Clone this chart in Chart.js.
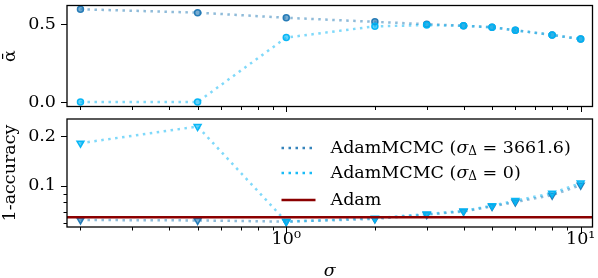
<!DOCTYPE html>
<html>
<head>
<meta charset="utf-8">
<script src="https://cdn.jsdelivr.net/npm/chart.js@4.4.0/dist/chart.umd.min.js"></script>
<style>
  body { margin: 0; background: #fff; width: 598px; height: 278px; position: relative; overflow: hidden; }
  canvas { position: absolute; left: 0; }
  #top { top: 0; }
  #bot { top: 112px; }
</style>
</head>
<body>
<canvas id="top" width="598" height="112"></canvas>
<canvas id="bot" width="598" height="166"></canvas>
<script>
// data
const sigma = [0.2, 0.5, 1, 2, 3, 4, 5, 6, 8, 10];
const alphaDelta = [0.596, 0.574, 0.541, 0.515, 0.500, 0.490, 0.480, 0.461, 0.431, 0.404];
const alphaZero = [0.000, 0.000, 0.414, 0.486, 0.494, 0.490, 0.480, 0.461, 0.431, 0.404];
const errDelta = [0.0624, 0.0620, 0.0610, 0.0633, 0.0673, 0.0702, 0.0753, 0.0800, 0.0880, 0.1010];
const errZero = [0.181, 0.228, 0.0610, 0.0639, 0.0678, 0.0707, 0.0760, 0.0816, 0.0904, 0.1040];
const errAdam = 0.0648;

const legendLabels = ["AdamMCMC (σ_Δ = 3661.6)", "AdamMCMC (σ_Δ = 0)", "Adam"];

// ticks
const xTicks = [0.2, 0.3, 0.4, 0.5, 0.6, 0.7, 0.8, 0.9, 1, 2, 3, 4, 5, 6, 7, 8, 9, 10];
const xMajor = [1, 10];
const xLabels = { 1: "10⁰", 10: "10¹" };
const alphaTicks = [0, 0.5];
const alphaLabels = { 0: "0.0", 0.5: "0.5" };
const errTicks = [0.06, 0.07, 0.08, 0.09, 0.1, 0.2];
const errMajor = [0.1, 0.2];
const errLabels = { 0.1: "0.1", 0.2: "0.2" };

const X_MIN = 0.18, X_MAX = 10.97;

const DARK = "rgba(31,119,180,";
const LIGHT = "rgba(0,180,245,";
const FONT = "DejaVu Serif";
const FS = 17.5;

Chart.defaults.font.family = FONT;
Chart.defaults.font.size = FS;
Chart.defaults.color = "#000";

function pts(ys) {
  return sigma.map((x, i) => ({ x: x, y: ys[i] }));
}

// frame round the plot and outward tick marks
const frameTicks = {
  id: "frameTicks",
  afterDraw(chart, args, opts) {
    const { ctx, chartArea: a } = chart;
    const xs = chart.scales.x, ys = chart.scales.y;
    ctx.save();
    ctx.strokeStyle = "#000";
    ctx.lineWidth = 1;
    xs.ticks.forEach(t => {
      const px = Math.round(xs.getPixelForValue(t.value)) + 0.5;
      const len = xMajor.includes(t.value) ? 7 : 3.5;
      ctx.beginPath();
      ctx.moveTo(px, a.bottom);
      ctx.lineTo(px, a.bottom + len);
      ctx.stroke();
    });
    ys.ticks.forEach(t => {
      const py = Math.round(ys.getPixelForValue(t.value)) + 0.5;
      const len = opts.yMajor.includes(t.value) ? 6 : 3.5;
      ctx.beginPath();
      ctx.moveTo(a.left, py);
      ctx.lineTo(a.left - len, py);
      ctx.stroke();
    });
    ctx.lineWidth = 1.3;
    ctx.strokeRect(a.left, a.top, a.right - a.left, a.bottom - a.top);
    ctx.restore();
  }
};

// legend with subscript, drawn inside the lower panel
const richLegend = {
  id: "richLegend",
  afterDraw(chart) {
    const { ctx, chartArea: a } = chart;
    const ds = [chart.data.datasets[1], chart.data.datasets[2], chart.data.datasets[0]];
    const x0 = a.right - 311, x1 = a.right - 277, tx = a.right - 262;
    const rowY = [a.top + 29, a.top + 54, a.top + 81];
    ctx.save();
    ds.forEach((d, i) => {
      const y = rowY[i];
      ctx.beginPath();
      ctx.strokeStyle = d.legendColor;
      ctx.lineWidth = 2.5;
      ctx.setLineDash(d.borderDash || []);
      ctx.moveTo(x0, y);
      ctx.lineTo(x1, y);
      ctx.stroke();
      ctx.setLineDash([]);
      ctx.fillStyle = "#000";
      ctx.textBaseline = "middle";
      let x = tx;
      const parts = legendLabels[i].split("σ_Δ");
      const seg = [[parts[0], FS + "px " + FONT, 0]];
      if (parts.length > 1) {
        seg.push(["σ", "italic " + FS + "px " + FONT, 0]);
        seg.push(["Δ", "12px " + FONT, 4]);
        seg.push([parts[1], FS + "px " + FONT, 0]);
      }
      seg.forEach(s => {
        ctx.font = s[1];
        ctx.fillText(s[0], x, y + s[2]);
        x += ctx.measureText(s[0]).width;
      });
    });
    ctx.restore();
  }
};

function xAxis(showLabels, height) {
  return {
    type: "logarithmic",
    min: X_MIN,
    max: X_MAX,
    grid: { display: false, drawTicks: false, tickLength: 0 },
    border: { display: false },
    afterBuildTicks: s => { s.ticks = xTicks.map(v => ({ value: v })); },
    afterFit: s => { s.height = height; s.paddingLeft = 0; s.paddingRight = 0; },
    ticks: {
      display: showLabels,
      autoSkip: false,
      maxRotation: 0,
      padding: 2,
      font: { size: FS },
      callback: v => xLabels[v] || ""
    },
    title: {
      display: showLabels,
      text: "σ",
      font: { size: FS, style: "italic", lineHeight: 0.8 },
      padding: { top: 0, bottom: 0 }
    }
  };
}

function yAxis(type, min, max, tickVals, labels, title) {
  return {
    type: type,
    min: min,
    max: max,
    grid: { display: false, drawTicks: false, tickLength: 0 },
    border: { display: false },
    afterBuildTicks: s => { s.ticks = tickVals.map(v => ({ value: v })); },
    afterFit: s => { s.width = 67; s.paddingTop = 0; s.paddingBottom = 0; },
    ticks: {
      autoSkip: false,
      padding: 11,
      font: { size: FS },
      callback: v => labels[v] || ""
    },
    title: {
      display: true,
      text: title,
      font: { size: FS },
      padding: { top: 0, bottom: 0 }
    }
  };
}

function series(label, ys, col, style, order) {
  return {
    label: label,
    data: pts(ys),
    borderColor: col + "0.5)",
    legendColor: col + "0.9)",
    borderWidth: 2.5,
    borderDash: [2.5, 4.5],
    pointStyle: style,
    pointRotation: style === "triangle" ? 180 : 0,
    pointRadius: style === "triangle" ? 4 : 3,
    pointBorderWidth: 1.5,
    pointBackgroundColor: col + "0.6)",
    pointBorderColor: col + "0.95)",
    order: order
  };
}

new Chart(document.getElementById("top"), {
  type: "line",
  data: {
    datasets: [
      series(legendLabels[0], alphaDelta, DARK, "circle", 2),
      series(legendLabels[1], alphaZero, LIGHT, "circle", 1)
    ]
  },
  options: {
    responsive: false,
    animation: false,
    layout: { padding: { top: 2, right: 3, left: 0, bottom: 0 } },
    plugins: {
      legend: { display: false },
      tooltip: { enabled: false },
      frameTicks: { yMajor: alphaTicks }
    },
    scales: {
      x: xAxis(false, 4),
      y: yAxis("linear", -0.029, 0.62, alphaTicks, alphaLabels, "ᾱ")
    }
  },
  plugins: [frameTicks]
});

new Chart(document.getElementById("bot"), {
  type: "line",
  data: {
    datasets: [
      {
        label: legendLabels[2],
        data: [{ x: X_MIN, y: errAdam }, { x: X_MAX, y: errAdam }],
        borderColor: "#8b0000",
        legendColor: "#8b0000",
        borderWidth: 2.5,
        pointRadius: 0,
        order: 0
      },
      series(legendLabels[0], errDelta, DARK, "triangle", 2),
      series(legendLabels[1], errZero, LIGHT, "triangle", 1)
    ]
  },
  options: {
    responsive: false,
    animation: false,
    layout: { padding: { top: 7, right: 3, left: 0, bottom: 0 } },
    plugins: {
      legend: { display: false },
      tooltip: { enabled: false },
      frameTicks: { yMajor: errMajor }
    },
    scales: {
      x: xAxis(true, 51),
      y: yAxis("logarithmic", 0.0566, 0.253, errTicks, errLabels, "1-accuracy")
    }
  },
  plugins: [frameTicks, richLegend]
});
</script>
</body>
</html>
